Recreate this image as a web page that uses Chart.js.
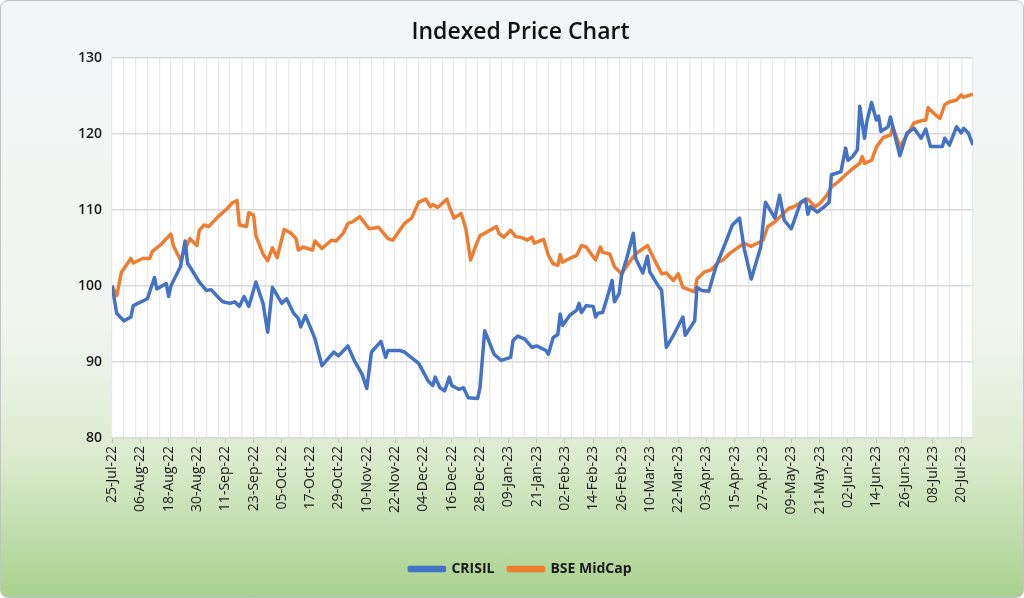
<!DOCTYPE html>
<html>
<head>
<meta charset="utf-8">
<title>Indexed Price Chart</title>
<script src="https://cdn.jsdelivr.net/npm/chart.js@4"></script>
<style>
    html, body {
        margin: 0;
        padding: 0;
        width: 1024px;
        height: 598px;
        overflow: hidden;
        background: #ffffff;
    }
    #wrap {
        box-sizing: border-box;
        width: 1024px;
        height: 598px;
        border: 1px solid #c4c4c4;
        border-radius: 8px;
        background: linear-gradient(to bottom, #f3f6f8 0%, #f0f5ee 55%, #dcecd0 76%, #a9d18e 100%);
        overflow: hidden;
    }
</style>
</head>
<body>
<div id="wrap">
    <canvas id="priceChart" width="1022" height="596"></canvas>
</div>
<script>
// Days counted from 25-Jul-22
const tickLabels = [
    '25-Jul-22', '06-Aug-22', '18-Aug-22', '30-Aug-22', '11-Sep-22', '23-Sep-22',
    '05-Oct-22', '17-Oct-22', '29-Oct-22', '10-Nov-22', '22-Nov-22', '04-Dec-22',
    '16-Dec-22', '28-Dec-22', '09-Jan-23', '21-Jan-23', '02-Feb-23', '14-Feb-23',
    '26-Feb-23', '10-Mar-23', '22-Mar-23', '03-Apr-23', '15-Apr-23', '27-Apr-23',
    '09-May-23', '21-May-23', '02-Jun-23', '14-Jun-23', '26-Jun-23', '08-Jul-23',
    '20-Jul-23'
];

const crisilDays = [
    0, 2, 5, 8, 9, 15, 18, 19, 23, 24, 25, 29, 31, 32, 37, 40, 42, 45, 47, 50,
    52, 54, 56, 58, 61, 64, 66, 68, 72, 74, 77, 79, 80, 82, 86, 89, 94, 96, 100, 103,
    106, 108, 110, 114, 116, 117, 122, 124, 130, 134, 136, 137, 139, 141, 143, 144, 147, 149, 151, 155,
    156, 158, 162, 165, 169, 170, 172, 175, 178, 180, 184, 185, 187, 189, 190, 191, 194, 197, 198, 199,
    201, 204, 205, 206, 208, 211, 212, 213, 215, 216, 218, 221, 222, 225, 227, 228, 232, 233, 235, 238,
    242, 243, 247, 248, 250, 253, 256, 260, 263, 266, 268, 271, 275, 277, 281, 283, 285, 288, 290, 292,
    294, 295, 296, 299, 302, 304, 305, 309, 311, 312, 314, 316, 317, 319, 320, 322, 324, 325, 326, 329,
    330, 331, 334, 337, 340, 343, 345, 347, 352, 353, 355, 358, 360, 361, 363, 365
];
const crisil = [
    100, 96.4, 95.4, 95.9, 97.4, 98.3, 101.1, 99.6, 100.3, 98.6, 100, 102.5, 105.9, 103, 100.5, 99.4, 99.5, 98.5, 97.9, 97.7,
    97.9, 97.3, 98.6, 97.3, 100.5, 97.7, 93.9, 99.8, 97.7, 98.3, 96.4, 95.7, 94.6, 96.1, 93.1, 89.5, 91.3, 90.8, 92.1, 90.0,
    88.4, 86.5, 91.3, 92.7, 90.6, 91.5, 91.5, 91.3, 89.8, 87.5, 86.9, 88.0, 86.6, 86.2, 88.0, 86.9, 86.4, 86.6, 85.3, 85.2,
    86.6, 94.1, 91.0, 90.2, 90.6, 92.8, 93.4, 93.0, 91.9, 92.1, 91.5, 91.0, 93.2, 93.6, 96.3, 94.8, 96.1, 96.8, 97.7, 96.5,
    97.4, 97.3, 95.9, 96.4, 96.5, 99.6, 100.7, 97.9, 99.0, 101.4, 103.4, 106.9, 103.6, 101.7, 103.9, 101.8, 99.8, 99.4, 91.9, 93.5,
    95.9, 93.5, 95.4, 99.8, 99.4, 99.3, 102.5, 105.6, 108.0, 108.9, 104.9, 100.9, 105.1, 111.0, 108.9, 111.9, 108.6, 107.5, 109.3, 111.0,
    111.4, 109.4, 110.4, 109.7, 110.4, 111.0, 114.6, 115.0, 118.1, 116.5, 117.0, 117.9, 123.6, 119.4, 121.6, 124.1, 121.8, 122.3, 120.3, 120.9,
    122.2, 120.9, 117.1, 120.1, 120.7, 119.4, 120.6, 118.3, 118.3, 119.4, 118.5, 120.9, 120.1, 120.7, 120.1, 118.5
];

const midcapDays = [
    0, 2, 4, 8, 9, 13, 16, 17, 21, 23, 25, 26, 29, 33, 36, 37, 39, 41, 45, 49,
    51, 53, 54, 57, 58, 60, 61, 64, 66, 68, 70, 73, 76, 78, 79, 81, 85, 86, 89, 93,
    95, 98, 100, 102, 105, 109, 113, 117, 119, 124, 127, 130, 133, 135, 136, 138, 142, 143, 145, 148,
    150, 152, 154, 156, 158, 163, 164, 166, 169, 171, 174, 176, 178, 179, 183, 185, 187, 189, 190, 191,
    194, 197, 199, 201, 205, 207, 208, 211, 213, 216, 220, 222, 227, 230, 233, 235, 238, 240, 242, 247,
    248, 251, 254, 257, 259, 262, 268, 271, 276, 278, 281, 284, 287, 289, 292, 295, 298, 300, 303, 305,
    308, 311, 314, 317, 318, 319, 322, 324, 327, 330, 331, 334, 337, 340, 343, 345, 346, 349, 351, 353,
    355, 358, 360, 361, 365
];
const midcap = [
    100, 98.7, 101.8, 103.6, 103.0, 103.6, 103.6, 104.5, 105.5, 106.2, 106.8, 105.3, 103.4, 106.2, 105.3, 107.3, 108.0, 107.8, 109.1, 110.2,
    110.9, 111.2, 108.0, 107.8, 109.6, 109.3, 106.6, 104.2, 103.3, 105.0, 103.7, 107.4, 106.9, 106.2, 104.7, 105.1, 104.7, 105.9, 104.9, 106.0,
    105.9, 106.9, 108.2, 108.4, 109.1, 107.5, 107.7, 106.2, 106.0, 108.2, 108.9, 111.0, 111.4, 110.4, 110.7, 110.3, 111.4, 110.4, 108.9, 109.5,
    107.5, 103.4, 105.1, 106.6, 106.9, 107.8, 106.9, 106.4, 107.3, 106.5, 106.3, 106.0, 106.4, 105.6, 106.1, 104.0, 102.9, 102.7, 104.1, 103.1,
    103.6, 104.0, 105.3, 105.1, 103.4, 105.1, 104.4, 104.2, 102.5, 101.6, 103.4, 104.2, 105.3, 103.4, 101.6, 101.7, 100.7, 101.6, 99.8, 99.2,
    100.9, 101.8, 102.1, 103.1, 103.4, 104.3, 105.6, 105.2, 106.0, 107.8, 108.4, 109.3, 110.2, 110.4, 110.9, 111.4, 110.4, 110.8, 111.9, 113.0,
    113.7, 114.6, 115.4, 116.1, 117.0, 116.1, 116.5, 118.2, 119.5, 119.8, 120.9, 118.3, 119.8, 121.4, 121.7, 121.8, 123.4, 122.5, 122.0, 123.8,
    124.2, 124.4, 125.1, 124.8, 125.2
];

const toPoints = (days, vals) => days.map((d, i) => ({ x: d, y: vals[i] }));

// White plot area on top of the green page background
const plotBackground = {
    id: 'plotBackground',
    beforeDraw(chart) {
        const { ctx, chartArea } = chart;
        ctx.save();
        ctx.fillStyle = '#ffffff';
        ctx.fillRect(chartArea.left, chartArea.top, chartArea.right - chartArea.left, chartArea.bottom - chartArea.top);
        ctx.restore();
    }
};

const fontName = "'Open Sans', 'Noto Sans', sans-serif";

new Chart(document.getElementById('priceChart'), {
    type: 'line',
    data: {
        datasets: [
            {
                label: 'CRISIL',
                data: toPoints(crisilDays, crisil),
                borderColor: '#4472C4',
                backgroundColor: '#4472C4',
                borderWidth: 3.5,
                borderJoinStyle: 'round',
                pointRadius: 0,
                tension: 0
            },
            {
                label: 'BSE MidCap',
                data: toPoints(midcapDays, midcap),
                borderColor: '#ED7D31',
                backgroundColor: '#ED7D31',
                borderWidth: 3.5,
                borderJoinStyle: 'round',
                pointRadius: 0,
                tension: 0
            }
        ]
    },
    options: {
        responsive: false,
        animation: false,
        layout: { padding: { left: 67, right: 50, top: 6, bottom: 11 } },
        plugins: {
            title: {
                display: true,
                text: 'Indexed Price Chart',
                color: '#111111',
                font: { family: fontName, size: 23, weight: '600' },
                padding: { top: 12, bottom: 11 }
            },
            legend: {
                position: 'bottom',
                labels: {
                    color: '#1a1a1a',
                    font: { family: fontName, size: 14, weight: 'bold' },
                    boxWidth: 35,
                    boxHeight: 3,
                    padding: 14
                }
            },
            tooltip: { enabled: false }
        },
        scales: {
            // minor grid every 5 days
            x: {
                type: 'linear',
                min: 0,
                max: 365,
                afterBuildTicks: axis => {
                    const t = [];
                    for (let d = 0; d <= 365; d += 5) t.push({ value: d });
                    axis.ticks = t;
                },
                ticks: { display: false },
                grid: { color: '#e9e9e9', lineWidth: 1.3, drawTicks: false },
                border: { display: false }
            },
            // date labels every 12 days
            x2: {
                type: 'linear',
                position: 'bottom',
                min: 0,
                max: 365,
                afterBuildTicks: axis => {
                    axis.ticks = tickLabels.map((_, i) => ({ value: i * 12 }));
                },
                afterFit: axis => {
                    axis.height = 110;
                },
                ticks: {
                    autoSkip: false,
                    minRotation: 90,
                    maxRotation: 90,
                    padding: 3,
                    color: '#1a1a1a',
                    font: { family: fontName, size: 14 },
                    callback: (value) => tickLabels[Math.round(value / 12)]
                },
                grid: { drawOnChartArea: false, color: '#bfbfbf', tickLength: 5 },
                border: { color: '#d9d9d9', width: 1.5 }
            },
            y: {
                min: 80,
                max: 130,
                ticks: {
                    stepSize: 10,
                    padding: 10,
                    color: '#1a1a1a',
                    font: { family: fontName, size: 14, weight: '600' }
                },
                grid: { color: '#d9d9d9', lineWidth: 1.5, drawTicks: false },
                border: { display: false }
            }
        }
    },
    plugins: [plotBackground]
});
</script>
</body>
</html>
